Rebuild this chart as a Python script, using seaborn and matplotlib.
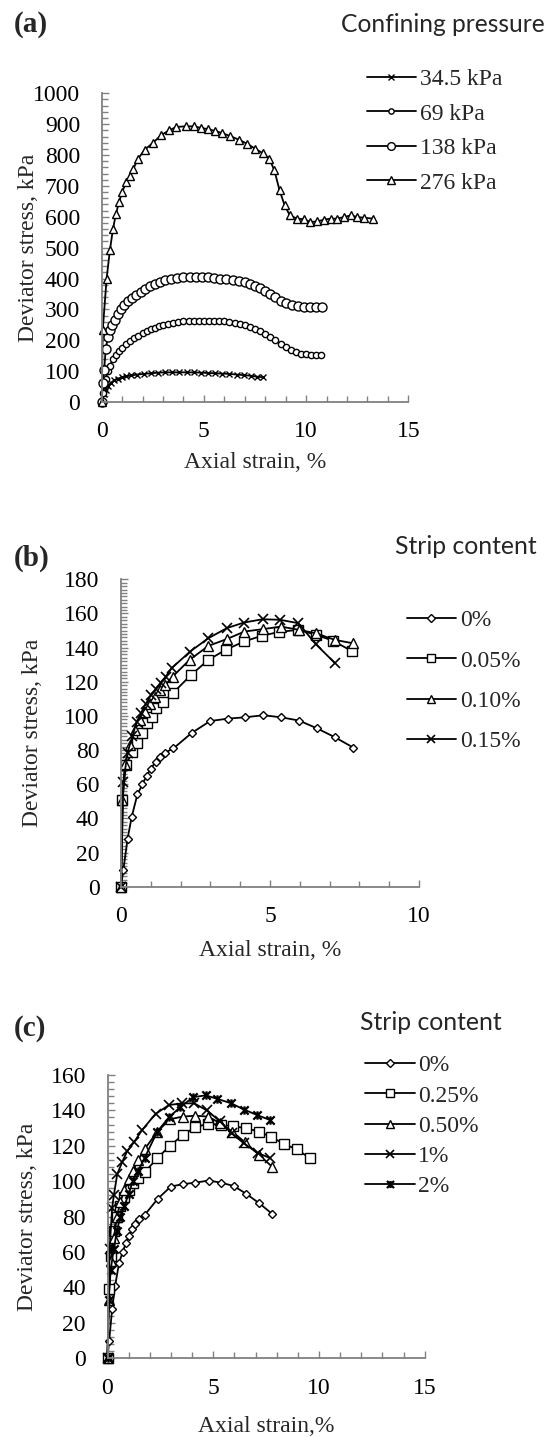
import numpy as np
import pandas as pd
import matplotlib
matplotlib.use("Agg")
import matplotlib.pyplot as plt
from matplotlib.path import Path
from matplotlib.ticker import MultipleLocator
import seaborn as sns

# ---------------- data ----------------
# (a) confining pressure series
a_345_x = [0.00, 0.10, 0.20, 0.30, 0.45, 0.60, 0.80, 1.00, 1.20, 1.45, 1.75, 2.05, 2.40, 2.75, 3.10,
           3.45, 3.80, 4.15, 4.50, 4.85, 5.20, 5.55, 5.90, 6.25, 6.60, 6.95, 7.30, 7.60, 7.90]
a_345_y = [0, 25, 40, 52, 62, 70, 76, 80, 83, 86, 89, 91, 93, 95, 96,
           96, 96, 96, 96, 95, 94, 93, 92, 91, 89, 87, 85, 82, 80]

a_69_x = [0.00, 0.05, 0.12, 0.20, 0.30, 0.40, 0.55, 0.70, 0.85, 1.00, 1.20, 1.40, 1.60, 1.80, 2.00,
          2.20, 2.40, 2.60, 2.80, 3.00, 3.25, 3.50, 3.75, 4.00, 4.25, 4.50, 4.75, 5.00, 5.25, 5.50,
          5.75, 6.00, 6.25, 6.50, 6.75, 7.00, 7.25, 7.50, 7.75, 8.00, 8.25, 8.50, 8.75, 9.00, 9.25,
          9.50, 9.75, 10.00, 10.25, 10.50, 10.75]
a_69_y = [0, 30, 55, 75, 100, 118, 138, 152, 165, 176, 188, 198, 207, 215, 222,
          229, 235, 240, 245, 249, 253, 256, 259, 261, 262, 263, 264, 264, 264, 264,
          263, 262, 260, 257, 253, 248, 243, 237, 229, 221, 211, 200, 189, 178, 169,
          162, 157, 154, 152, 151, 152]

a_138_x = [0.00, 0.05, 0.12, 0.20, 0.30, 0.40, 0.50, 0.65, 0.80, 0.95, 1.10, 1.30, 1.50, 1.70, 1.90,
           2.10, 2.35, 2.60, 2.85, 3.10, 3.40, 3.70, 4.00, 4.30, 4.60, 4.90, 5.20, 5.50, 5.80, 6.10,
           6.40, 6.70, 7.00, 7.25, 7.50, 7.75, 8.00, 8.25, 8.50, 8.75, 9.00, 9.30, 9.60, 9.90, 10.20,
           10.50, 10.80]
a_138_y = [0, 60, 105, 173, 210, 232, 248, 267, 285, 300, 313, 326, 338, 348, 357,
           366, 375, 383, 390, 395, 400, 403, 405, 406, 406, 405, 404, 402, 400, 398,
           395, 392, 388, 383, 377, 369, 360, 350, 339, 328, 320, 314, 311, 309, 308,
           308, 309]

a_276_x = [0.00, 0.05, 0.24, 0.40, 0.55, 0.70, 0.85, 1.00, 1.20, 1.38, 1.55, 1.78, 2.10, 2.50, 2.90,
           3.30, 3.65, 4.10, 4.50, 4.85, 5.20, 5.55, 5.90, 6.30, 6.70, 7.10, 7.50, 7.90, 8.20, 8.45,
           8.70, 8.95, 9.20, 9.55, 9.90, 10.20, 10.55, 10.90, 11.20, 11.50, 11.85, 12.20, 12.50, 12.85,
           13.25]
a_276_y = [0, 232, 400, 491, 560, 610, 648, 680, 713, 733, 756, 788, 817, 839, 864,
           880, 891, 893, 893, 888, 884, 878, 871, 861, 850, 837, 821, 805, 788, 750,
           686, 637, 605, 594, 592, 583, 585, 591, 594, 594, 599, 605, 599, 597,
           594]

# (b) strip content series
b_0_x = [0, 0.08, 0.22, 0.36, 0.55, 0.72, 0.86, 1.00, 1.16, 1.31, 1.48, 1.76, 2.37, 2.99, 3.58,
         4.16, 4.78, 5.37, 5.97, 6.57, 7.18, 7.80]
b_0_y = [0, 10, 28, 41, 54, 60, 65, 69, 73, 76, 78.5, 81, 90, 97, 98.4,
         99.2, 100.4, 99.2, 97.3, 92.8, 87.5, 81.4]

b_005_x = [0, 0.05, 0.16, 0.38, 0.55, 0.72, 0.88, 1.03, 1.17, 1.42, 1.76, 2.35, 2.93, 3.51, 4.13,
           4.72, 5.31, 5.95, 6.54, 7.12, 7.74]
b_005_y = [0, 50.8, 71, 79, 84, 90, 96, 99.6, 104.5, 108, 113.7, 124, 132.8, 138.7, 143.6,
           146.9, 149.2, 150.4, 147.5, 144, 138]

b_010_x = [0, 0.05, 0.13, 0.30, 0.47, 0.64, 0.80, 0.97, 1.14, 1.30, 1.48, 1.73, 2.30, 2.93, 3.55,
           4.14, 4.75, 5.37, 5.97, 6.54, 7.18, 7.77]
b_010_y = [0, 50.8, 72, 83, 92, 97.7, 102.5, 107, 111, 115, 118, 123, 132.8, 141, 145,
           149.4, 150.8, 152.3, 150.4, 148.4, 144.5, 142.6]

b_015_x = [0, 0.08, 0.22, 0.38, 0.53, 0.67, 0.83, 1.00, 1.16, 1.33, 1.50, 1.70, 2.32, 2.93, 3.55,
           4.13, 4.75, 5.34, 5.95, 6.54, 7.18]
b_015_y = [0, 61.5, 78.5, 88, 96.7, 101.6, 107, 112, 115.6, 119.5, 123, 128, 137.7, 145.5, 151.4,
           154.7, 156.6, 156.3, 154.3, 142, 130.9]

# (c) strip content series
c_0_x = b_0_x
c_0_y = b_0_y

c_025_x = [0, 0.07, 0.15, 0.30, 0.45, 0.60, 0.80, 1.00, 1.20, 1.45, 1.75, 2.35, 2.95, 3.55, 4.15,
           4.75, 5.35, 5.95, 6.55, 7.15, 7.75, 8.35, 8.95, 9.57]
c_025_y = [0, 39, 58, 72, 80, 86, 91, 95, 99, 102, 105, 113, 120, 126, 130.5,
           132.5, 132, 131, 130, 128, 125, 121, 118, 113]

c_050_x = [0, 0.05, 0.15, 0.30, 0.45, 0.60, 0.80, 1.00, 1.20, 1.45, 1.75, 2.35, 2.95, 3.55, 4.15,
           4.75, 5.30, 5.90, 6.50, 7.15, 7.80]
c_050_y = [0, 33, 55, 68, 80, 88, 95, 101, 106, 112, 118, 128, 135, 136.5, 137,
           136.5, 133, 128, 122, 115, 108]

c_1_x = [0, 0.10, 0.22, 0.30, 0.46, 0.70, 0.93, 1.25, 1.64, 2.27, 2.90, 3.50, 4.10, 4.70, 5.30,
         5.87, 6.44, 7.10, 7.70]
c_1_y = [0, 62, 85, 92, 104, 111, 117, 122, 129, 138, 143, 144, 144, 140, 134,
         127, 121.5, 116, 113]

c_2_x = [0, 0.06, 0.15, 0.30, 0.45, 0.60, 0.80, 1.00, 1.20, 1.45, 1.75, 2.35, 2.90, 3.45, 4.05,
         4.65, 5.20, 5.85, 6.45, 7.05, 7.70]
c_2_y = [0, 33, 50, 62, 72, 80, 86, 93, 100, 106, 113, 128, 136, 142, 147.5,
         148.5, 146.5, 144, 140.5, 137.5, 134.5]

a_labels = ["34.5 kPa", "69 kPa", "138 kPa", "276 kPa"]
b_labels = ["0%", "0.05%", "0.10%", "0.15%"]
c_labels = ["0%", "0.25%", "0.50%", "1%", "2%"]

# ---------------- style ----------------
W, H = 545, 1437
sns.set_style("white")
SERIF = ["Liberation Serif", "DejaVu Serif"]
plt.rcParams["font.family"] = SERIF
plt.rcParams["font.serif"] = SERIF
plt.rcParams["mathtext.fontset"] = "stix"

FS = 17
GRAY = "#808080"

star = Path([(-1, -1), (1, 1), (-1, 1), (1, -1), (0, -1), (0, 1)],
            [Path.MOVETO, Path.LINETO, Path.MOVETO, Path.LINETO, Path.MOVETO, Path.LINETO])

fig = plt.figure(figsize=(W / 100, H / 100), dpi=100)


def fx(px):
    return px / W


def fy(py):
    return 1 - py / H


def make_axes(l, r, t, b):
    return fig.add_axes([fx(l), fy(b), (r - l) / W, (b - t) / H])


def style_axes(ax, xmax, ymax, ymajor, yminor):
    ax.set_xlim(0, xmax)
    ax.set_ylim(0, ymax)
    for s in ["top", "right"]:
        ax.spines[s].set_visible(False)
    for s in ["left", "bottom"]:
        ax.spines[s].set_color(GRAY)
        ax.spines[s].set_linewidth(1.3)
    ax.xaxis.set_major_locator(MultipleLocator(5))
    ax.xaxis.set_minor_locator(MultipleLocator(1))
    ax.yaxis.set_major_locator(MultipleLocator(ymajor))
    ax.yaxis.set_minor_locator(MultipleLocator(yminor))
    ax.tick_params(axis="both", which="both", direction="in", color=GRAY, width=1.0,
                   labelsize=FS, labelcolor="black", bottom=True, left=True)
    ax.tick_params(axis="both", which="major", length=5)
    ax.tick_params(axis="both", which="minor", length=4)
    ax.tick_params(axis="y", which="major", pad=15.5)
    ax.tick_params(axis="x", which="major", pad=14)
    for lbl in ax.get_xticklabels() + ax.get_yticklabels():
        lbl.set_family(SERIF)
    ax.set_facecolor("white")


def plot_series(ax, xs, ys, label, marker, ms, mew=1.0):
    sns.lineplot(x=xs, y=ys, ax=ax, color="black", linewidth=1.3, marker=marker,
                 markersize=ms, markerfacecolor="white", markeredgecolor="black",
                 markeredgewidth=mew, label=label, sort=False, errorbar=None,
                 estimator=None, clip_on=False)


def set_labels(ax, xl, xcen, xly, ylx, ylcen):
    ax.set_xlabel(xl, fontsize=FS, va="center", family=SERIF)
    ax.set_ylabel("Deviator stress, kPa", fontsize=FS, va="center", family=SERIF)
    ax.xaxis.set_label_coords(fx(xcen), fy(xly), transform=fig.transFigure)
    ax.yaxis.set_label_coords(fx(ylx), fy(ylcen), transform=fig.transFigure)


def add_legend(ax, x_left, y_center, spacing, scale=0.85):
    h, l = ax.get_legend_handles_labels()
    ax.legend(h, l, loc="center left", bbox_to_anchor=(fx(x_left), fy(y_center)),
              bbox_transform=fig.transFigure, frameon=False,
              prop={"family": SERIF, "size": FS},
              handlelength=2.1, handletextpad=0.15, borderpad=0, borderaxespad=0,
              labelspacing=spacing, markerscale=scale)


# ---------------- panel (a) ----------------
axa = make_axes(101.7, 408.3, 93.3, 402.0)
style_axes(axa, 15, 1000, 100, 20)
plot_series(axa, a_345_x, a_345_y, a_labels[0], "x", 5, 1.0)
plot_series(axa, a_69_x, a_69_y, a_labels[1], "o", 4.5)
plot_series(axa, a_138_x, a_138_y, a_labels[2], "o", 6.5)
plot_series(axa, a_276_x, a_276_y, a_labels[3], "^", 6)
set_labels(axa, "Axial strain, %", 255, 462, 29, 248)
add_legend(axa, 366.7, 131, 0.55)

# ---------------- panel (b) ----------------
axb = make_axes(121.0, 419.0, 579.3, 886.7)
style_axes(axb, 10, 180, 20, 2)
plot_series(axb, b_0_x, b_0_y, b_labels[0], "D", 4.5)
plot_series(axb, b_005_x, b_005_y, b_labels[1], "s", 6.5)
plot_series(axb, b_010_x, b_010_y, b_labels[2], "^", 6.5)
plot_series(axb, b_015_x, b_015_y, b_labels[3], "x", 7, 1.2)
set_labels(axb, "Axial strain, %", 270, 951, 33, 733)
add_legend(axb, 406.7, 681, 0.79)

# ---------------- panel (c) ----------------
axc = make_axes(107.5, 424.8, 1075.0, 1358.3)
style_axes(axc, 15, 160, 20, 4)
plot_series(axc, c_0_x, c_0_y, c_labels[0], "D", 4.5)
plot_series(axc, c_025_x, c_025_y, c_labels[1], "s", 7)
plot_series(axc, c_050_x, c_050_y, c_labels[2], "^", 6.5)
plot_series(axc, c_1_x, c_1_y, c_labels[3], "x", 7, 1.2)
plot_series(axc, c_2_x, c_2_y, c_labels[4], star, 6, 1.6)
set_labels(axc, "Axial strain,%", 266, 1427, 28, 1217)
add_legend(axc, 365, 1126, 0.37)

# ---------------- panel letters and legend titles ----------------
for lab, y in [("(a)", 25), ("(b)", 558), ("(c)", 1028)]:
    fig.text(fx(14), fy(y), lab, fontsize=21, fontweight="bold", ha="left", va="center",
             family=SERIF)

titles = []
for txt, x0, x1, y in [("Confining pressure", 341, 545, 25),
                       ("Strip content", 395, 537, 547),
                       ("Strip content", 360, 502, 1022)]:
    t = fig.text(fx(x0), fy(y), txt, fontsize=17, ha="left", va="center",
                 family=["Lato", "DejaVu Sans"])
    titles.append((t, x1 - x0))

fig.canvas.draw()
r = fig.canvas.get_renderer()
for t, target in titles:
    w = t.get_window_extent(renderer=r).width
    t.set_fontsize(17 * target / w)

fig.savefig("out.png", dpi=100, facecolor="white")
